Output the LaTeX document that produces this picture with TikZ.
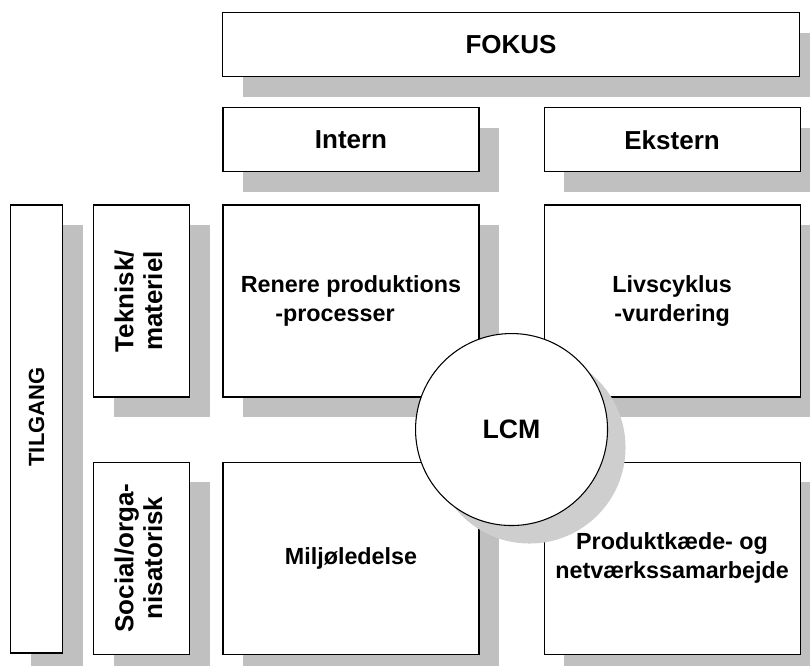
\documentclass[tikz,border=0pt]{standalone}
\usepackage{fontspec}
\setmainfont{Liberation Sans}
\usepackage{graphicx}
\usetikzlibrary{positioning, shadows, calc}
\definecolor{boxshade}{RGB}{192,192,192}
\definecolor{lcmshade}{RGB}{206,206,206}
\tikzset{
    cell/.style={
        rectangle, draw=black, line width=0.8pt,
        minimum width=192pt, minimum height=144pt,
        fill=white, align=center, inner sep=2pt,
        font=\fontsize{17.5}{21.5}\selectfont\bfseries,
        drop shadow={shadow xshift=15pt, shadow yshift=-15pt,
            fill=boxshade, opacity=1}
    },
    header/.style={
        cell, minimum height=48pt,
        font=\fontsize{19.5}{23.4}\selectfont\bfseries
    },
    rowhead/.style={
        cell, minimum width=72pt,
        font=\fontsize{19.5}{21.6}\selectfont\bfseries
    },
    lcm/.style={
        circle, draw=black, line width=0.8pt,
        minimum size=144pt, inner sep=0pt,
        fill=white, font=\fontsize{20}{24}\selectfont\bfseries,
        drop shadow={shadow xshift=13.5pt, shadow yshift=-13.5pt,
            fill=lcmshade, opacity=1}
    }
}
\newcommand{\sidetext}[1]{\rotatebox{90}{\begin{tabular}{@{}c@{}}#1\end{tabular}}}

\begin{document}
\begin{tikzpicture}[x=0.75pt, y=0.75pt]
\useasboundingbox (0,0) rectangle (810,665);

% the four fields
\node[cell] (rp) at (351,364) {Renere produktions\\-processer\hspace*{24pt}};
\node[cell, right=48pt of rp] (lc) {Livscyklus\\-vurdering};
\node[cell, below=48pt of rp] (ml) {Miljøledelse};
\node[cell, right=48pt of ml] (pk) {Produktkæde- og\\netværkssamarbejde};

% focus (columns)
\node[header, above=24pt of rp] (intern) {Intern};
\node[header, above=24pt of lc] (ekstern) {Ekstern};
\node[header, minimum width=432.75pt] (fokus) at (511,620.3) {FOKUS};

% approach (rows)
\node[rowhead, left=24pt of rp] (teknisk) {\sidetext{Teknisk/\\materiel}};
\node[rowhead, left=24pt of ml] (social) {\sidetext{Social/orga-\\nisatorisk}};
\node[rowhead, minimum width=39pt, minimum height=336pt,
      font=\fontsize{16.5}{19.8}\selectfont\bfseries] (tilgang) at (36.5,236)
      {\rotatebox{90}{\hspace*{18pt}TILGANG}};

% LCM on top of the crossing
\node[lcm] (lcm) at ($(rp)!.5!(pk)$) {LCM};

\end{tikzpicture}
\end{document}
